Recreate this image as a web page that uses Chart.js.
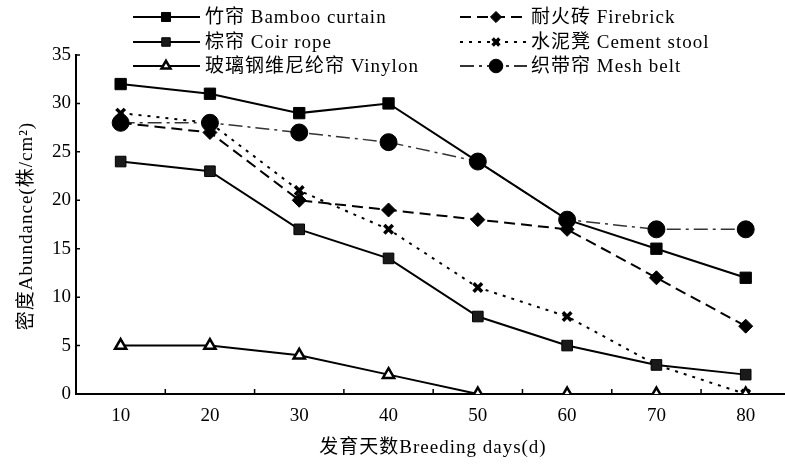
<!DOCTYPE html>
<html>
<head>
<meta charset="utf-8">
<script src="https://cdn.jsdelivr.net/npm/chart.js@4/dist/chart.umd.min.js"></script>
<style>
  html, body { margin: 0; padding: 0; background: #fff; }
  #wrap { width: 785px; height: 464px; position: relative; }
</style>
</head>
<body>
<div id="wrap"><canvas id="c" width="785" height="464"></canvas></div>
<script>
// values
const days = [10, 20, 30, 40, 50, 60, 70, 80];
const yTicks = [0, 5, 10, 15, 20, 25, 30, 35];
const bamboo = [32, 31, 29, 30, 24, 18, 15, 12];
const coir = [24, 23, 17, 14, 8, 5, 3, 2];
const vinylon = [5, 5, 4, 2, 0, 0, 0, 0];
const firebrick = [28, 27, 20, 19, 18, 17, 12, 7];
const cement = [29, 28, 21, 17, 11, 8, 3, 0];
const mesh = [28, 28, 27, 26, 24, 18, 17, 17];

const labelsLeft = ['竹帘 Bamboo curtain', '棕帘 Coir rope', '玻璃钢维尼纶帘 Vinylon'];
const labelsRight = ['耐火砖 Firebrick', '水泥凳 Cement stool', '织带帘 Mesh belt'];

const FONT = "'Liberation Serif', 'Times New Roman', 'Noto Sans CJK SC', serif";

function pts(arr) {
    return arr.map((v, i) => ({ x: days[i], y: v }));
}

const datasets = [
    { label: labelsLeft[0], data: pts(bamboo), borderColor: '#000', backgroundColor: '#000',
      borderWidth: 2, pointStyle: 'rect', pointRadius: 8, pointBorderWidth: 1 },
    { label: labelsLeft[1], data: pts(coir), borderColor: '#000', backgroundColor: '#1a1a1a',
      borderWidth: 2, pointStyle: 'rect', pointRadius: 7.5, pointBorderWidth: 1 },
    { label: labelsLeft[2], data: pts(vinylon), borderColor: '#000', backgroundColor: '#fff',
      borderWidth: 2, pointStyle: 'triangle', pointRadius: 6.5, pointBorderWidth: 2.5 },
    { label: labelsRight[0], data: pts(firebrick), borderColor: '#000', backgroundColor: '#000',
      borderWidth: 2, borderDash: [11, 6], pointStyle: 'rectRot', pointRadius: 7, pointBorderWidth: 1 },
    { label: labelsRight[1], data: pts(cement), borderColor: '#000', backgroundColor: '#000',
      borderWidth: 2, borderDash: [3, 6], pointStyle: 'crossRot', pointRadius: 6, pointBorderWidth: 3.5 },
    { label: labelsRight[2], data: pts(mesh), borderColor: '#333', backgroundColor: '#000',
      pointBorderColor: '#000', borderWidth: 1.5, borderDash: [14, 5, 3, 5], pointStyle: 'circle',
      pointRadius: 8.5, pointBorderWidth: 1 }
];

const extras = {
    id: 'extras',
    afterDraw(chart) {
        const ctx = chart.ctx;
        const xs = chart.scales.x, ys = chart.scales.y;
        const area = chart.chartArea;
        ctx.save();
        ctx.strokeStyle = '#000';
        ctx.lineWidth = 1.5;
        // inward tick marks
        ctx.beginPath();
        for (let v = 15; v <= 85; v += 10) {
            const px = xs.getPixelForValue(v);
            if (px > area.right) continue;
            ctx.moveTo(px, area.bottom);
            ctx.lineTo(px, area.bottom - 5);
        }
        yTicks.slice(1).forEach(v => {
            const py = ys.getPixelForValue(v);
            ctx.moveTo(area.left, py);
            ctx.lineTo(area.left + 4, py);
        });
        ctx.stroke();

        // axis titles
        ctx.fillStyle = '#000';
        ctx.font = '19px ' + FONT;
        ctx.letterSpacing = '1px';
        ctx.textAlign = 'center';
        ctx.textBaseline = 'middle';
        ctx.fillText('发育天数Breeding days(d)', 433, 448);
        ctx.save();
        ctx.translate(27, 226);
        ctx.rotate(-Math.PI / 2);
        ctx.fillText('密度Abundance(株/cm²)', 0, 0);
        ctx.restore();

        // legend
        const rows = [17, 42, 66];
        const cols = [
            { x0: 133, x1: 200, mx: 166, tx: 205 },
            { x0: 460, x1: 527, mx: 496, tx: 531 }
        ];
        datasets.forEach((ds, i) => {
            const c = cols[Math.floor(i / 3)];
            const y = rows[i % 3];
            ctx.save();
            ctx.strokeStyle = ds.borderColor;
            ctx.lineWidth = 2;
            ctx.setLineDash(ds.borderDash || []);
            ctx.beginPath();
            ctx.moveTo(c.x0, y);
            ctx.lineTo(c.x1, y);
            ctx.stroke();
            ctx.setLineDash([]);
            ctx.fillStyle = ds.backgroundColor;
            ctx.strokeStyle = ds.pointBorderColor || ds.borderColor;
            ctx.lineWidth = ds.pointBorderWidth;
            Chart.helpers.drawPoint(ctx, {
                pointStyle: ds.pointStyle,
                radius: ds.pointRadius * 0.8,
                rotation: 0,
                borderWidth: ds.pointBorderWidth
            }, c.mx, y);
            ctx.restore();
            ctx.fillStyle = '#000';
            ctx.textAlign = 'left';
            ctx.textBaseline = 'middle';
            ctx.font = '19px ' + FONT;
            ctx.letterSpacing = '1px';
            ctx.fillText(ds.label, c.tx, y + 1);
        });
        ctx.restore();
    }
};

new Chart(document.getElementById('c'), {
    type: 'line',
    data: { datasets: datasets },
    options: {
        responsive: false,
        animation: false,
        layout: { autoPadding: false, padding: { top: 55, right: 0, left: 0, bottom: 0 } },
        plugins: { legend: { display: false }, tooltip: { enabled: false } },
        elements: { line: { tension: 0, fill: false } },
        scales: {
            x: {
                type: 'linear',
                min: 5,
                max: 84.4,
                afterBuildTicks: s => { s.ticks = days.map(v => ({ value: v })); },
                afterFit: s => { s.height = 70; },
                grid: { display: false, drawTicks: false },
                border: { display: true, color: '#000', width: 2 },
                ticks: { color: '#000', padding: 11, font: { size: 19, family: FONT } }
            },
            y: {
                min: 0,
                max: 35,
                afterBuildTicks: s => { s.ticks = yTicks.map(v => ({ value: v })); },
                afterFit: s => { s.width = 76; },
                grid: { display: false, drawTicks: false },
                border: { display: true, color: '#000', width: 2 },
                ticks: { color: '#000', padding: 5, font: { size: 19, family: FONT } }
            }
        }
    },
    plugins: [extras]
});
</script>
</body>
</html>
